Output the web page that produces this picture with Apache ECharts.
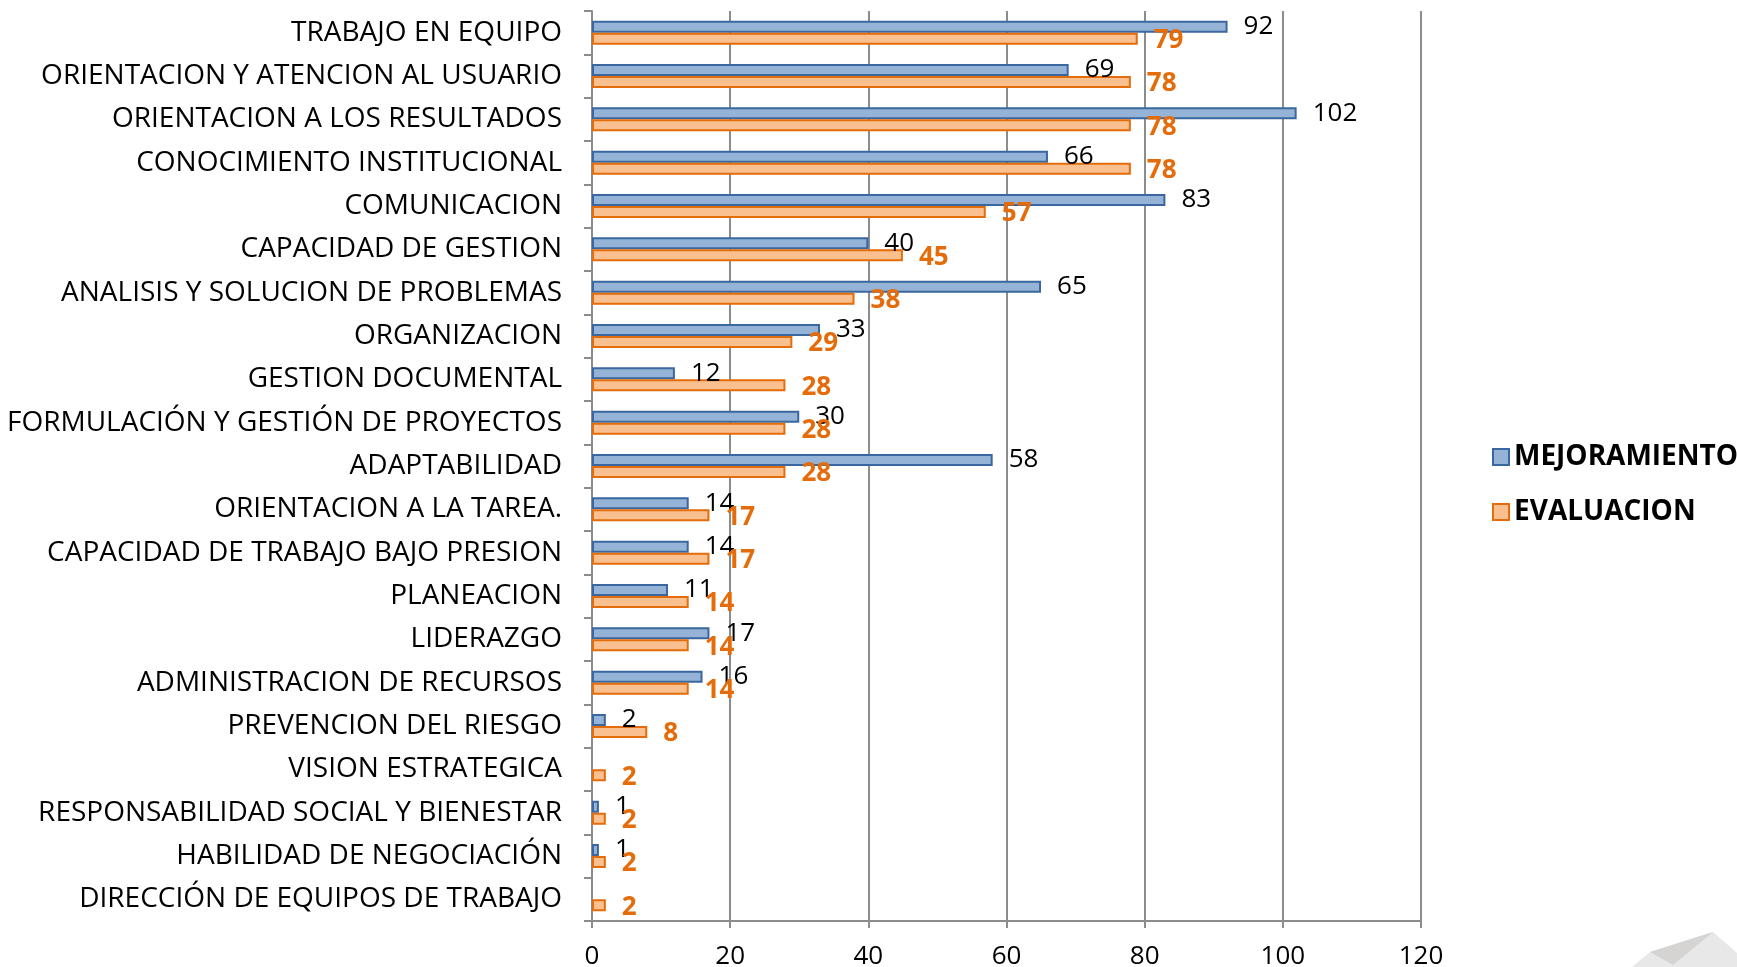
<!DOCTYPE html>
<html>
<head>
<meta charset="utf-8">
<script src="https://cdn.jsdelivr.net/npm/echarts@6/dist/echarts.min.js"></script>
<style>
  html, body { margin: 0; padding: 0; background: #fff; }
  #chart { width: 1737px; height: 967px; }
</style>
</head>
<body>
<div id="chart"></div>
<script>
var fontName = "'Open Sans', sans-serif";

const categories = [
    "TRABAJO EN EQUIPO",
    "ORIENTACION Y ATENCION AL USUARIO",
    "ORIENTACION A LOS RESULTADOS",
    "CONOCIMIENTO INSTITUCIONAL",
    "COMUNICACION",
    "CAPACIDAD DE GESTION",
    "ANALISIS Y SOLUCION DE PROBLEMAS",
    "ORGANIZACION",
    "GESTION DOCUMENTAL",
    "FORMULACIÓN Y GESTIÓN DE PROYECTOS",
    "ADAPTABILIDAD",
    "ORIENTACION A LA TAREA.",
    "CAPACIDAD DE TRABAJO BAJO PRESION",
    "PLANEACION",
    "LIDERAZGO",
    "ADMINISTRACION DE RECURSOS",
    "PREVENCION DEL RIESGO",
    "VISION ESTRATEGICA",
    "RESPONSABILIDAD SOCIAL Y BIENESTAR",
    "HABILIDAD DE NEGOCIACIÓN",
    "DIRECCIÓN DE EQUIPOS DE TRABAJO"
];

// null = no bar in the picture
const mejoramiento = [92, 69, 102, 66, 83, 40, 65, 33, 12, 30, 58, 14, 14, 11, 17, 16, 2, null, 1, 1, null];
const evaluacion = [79, 78, 78, 78, 57, 45, 38, 29, 28, 28, 28, 17, 17, 14, 14, 14, 8, 2, 2, 2, 2];

const xTicks = [0, 20, 40, 60, 80, 100, 120];

var chart = echarts.init(document.getElementById('chart'));

var option = {
    backgroundColor: '#ffffff',
    animation: false,
    textStyle: { fontFamily: fontName },
    grid: {
        left: 592,
        right: 316,
        top: 11,
        bottom: 46,
        containLabel: false,
        outerBoundsMode: 'none'
    },
    legend: {
        orient: 'vertical',
        left: 1487,
        top: 438,
        itemWidth: 16,
        itemHeight: 16,
        itemGap: 27,
        icon: 'rect',
        textStyle: {
            fontFamily: fontName,
            fontSize: 28,
            fontWeight: 'bold',
            color: '#000'
        },
        data: ['MEJORAMIENTO', 'EVALUACION']
    },
    xAxis: {
        type: 'value',
        min: xTicks[0],
        max: xTicks[xTicks.length - 1],
        interval: 20,
        axisLine: { show: true, lineStyle: { color: '#8c8c8c', width: 2 } },
        axisTick: { show: true, length: 7, lineStyle: { color: '#8c8c8c', width: 2 } },
        splitLine: { show: true, lineStyle: { color: '#8c8c8c', width: 2 } },
        axisLabel: {
            margin: 23,
            fontSize: 26,
            color: '#000',
            fontFamily: fontName
        }
    },
    yAxis: {
        type: 'category',
        inverse: true,
        data: categories,
        axisLine: { show: true, lineStyle: { color: '#8c8c8c', width: 2 } },
        axisTick: { show: true, length: 8, lineStyle: { color: '#8c8c8c', width: 2 } },
        axisLabel: {
            margin: 30,
            fontSize: 28,
            color: '#000',
            fontFamily: fontName
        }
    },
    series: [
        {
            name: 'MEJORAMIENTO',
            type: 'bar',
            data: mejoramiento,
            barWidth: 12,
            barGap: '0%',
            itemStyle: {
                color: '#95b3d7',
                borderColor: '#3a67a0',
                borderWidth: 2
            },
            label: {
                show: true,
                position: 'right',
                distance: 16,
                fontSize: 26,
                color: '#000',
                fontFamily: fontName
            }
        },
        {
            name: 'EVALUACION',
            type: 'bar',
            data: evaluacion,
            barWidth: 12,
            itemStyle: {
                color: '#fac090',
                borderColor: '#e46c0a',
                borderWidth: 2
            },
            label: {
                show: true,
                position: 'right',
                distance: 16,
                offset: [0, 2],
                fontSize: 26,
                fontWeight: 'bold',
                color: '#e46c0a',
                fontFamily: fontName
            }
        }
    ],
    graphic: [
        {
            type: 'polygon',
            silent: true,
            shape: { points: [[1632, 967], [1650, 952], [1713, 932], [1737, 953], [1737, 967]] },
            style: { fill: '#e8e8e8' }
        },
        {
            type: 'polygon',
            silent: true,
            shape: { points: [[1650, 952], [1713, 932], [1673, 965]] },
            style: { fill: '#d6d3d3' }
        }
    ]
};

chart.setOption(option);

window.addEventListener('resize', () => {
    chart.resize();
});
</script>
</body>
</html>
